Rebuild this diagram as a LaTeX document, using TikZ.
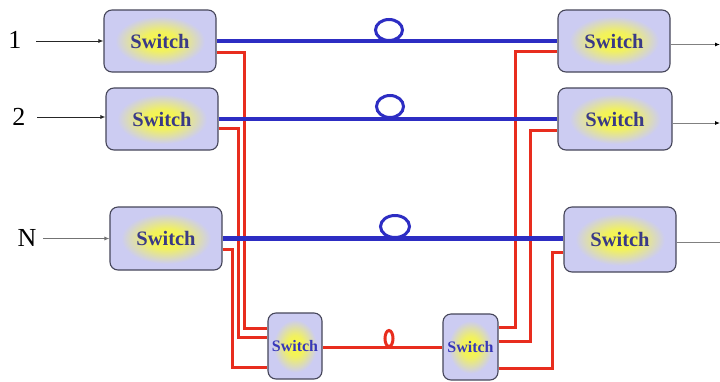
\documentclass[tikz,border=0pt]{standalone}
\usepackage{fontspec}
\setmainfont{Liberation Serif}
\usetikzlibrary{calc,arrows.meta}
\definecolor{lav}{RGB}{204,204,242}
\definecolor{yel}{RGB}{250,250,60}
\definecolor{edgec}{RGB}{70,70,90}
\definecolor{txtc}{RGB}{58,58,135}
\definecolor{txtb}{RGB}{55,55,185}
\definecolor{bl}{RGB}{45,45,195}
\definecolor{rd}{RGB}{232,45,30}
\pgfdeclareradialshading{glow}{\pgfpoint{0bp}{0bp}}{color(0bp)=(yel); color(8bp)=(yel!80!lav); color(20bp)=(lav); color(50bp)=(lav)}
\tikzset{
  swbox/.style={draw=edgec, line width=1.1pt, rounded corners=8pt, shading=glow,
    minimum width=112pt, minimum height=62pt,
    inner sep=0pt, text=txtc, font=\fontsize{20.5}{24}\selectfont\bfseries},
  smallbox/.style={swbox, minimum width=54pt, minimum height=66pt, text=txtb,
    font=\fontsize{16}{19}\selectfont\bfseries},
  bluel/.style={draw=bl, line width=4.2pt},
  bloop/.style={draw=bl, line width=3pt},
  redl/.style={draw=rd, line width=3pt},
  inarrow/.style={draw=black!85, line width=0.8pt, -{Latex[length=5pt,width=4pt]}},
  outarrow/.style={draw=black!50, line width=0.9pt, -{Latex[length=5pt,width=4pt,color=black]}},
  lbl/.style={font=\fontsize{26}{30}\selectfont, inner sep=0pt}
}
\begin{document}
\begin{tikzpicture}[x=1pt,y=-1pt]
\useasboundingbox[fill=white] (0,0) rectangle (720,381);
% switches
\node[swbox] (S1) at (160,41) {Switch};
\node[swbox] (S2) at (162,119) {Switch};
\node[swbox, minimum height=63pt] (SN) at (166,238.5) {Switch};
\node[swbox] (R1) at (614,41) {Switch};
\node[swbox, minimum width=114pt] (R2) at (615,119) {Switch};
\node[swbox, minimum height=65pt] (RN) at (620,239.5) {Switch};
\node[smallbox] (B1) at (295,346) {Switch};
\node[smallbox, minimum width=55pt] (B2) at (470.5,347) {Switch};
% labels
\node[lbl] (L1) at (15,40) {1};
\node[lbl] (L2) at (19,117) {2};
\node[lbl] (LN) at (27,238) {N};
\coordinate (I1) at (36,41);
\coordinate (I2) at (37,117);
\coordinate (IN) at (43,238.5);
\draw[inarrow] (I1) -- (S1.west);
\draw[inarrow] (I2) -- (S2.west |- I2);
\draw[inarrow, draw=black!55] (IN) -- (SN.west);
% outputs
\coordinate (O1) at (720,44.5);
\coordinate (O2) at (720,123);
\coordinate (ON) at (722,242);
\draw[outarrow] (R1.east |- O1) -- (O1);
\draw[outarrow] (R2.east |- O2) -- (O2);
\draw[draw=black!50, line width=0.9pt] (RN.east |- ON) -- (ON);
% red routes
\draw[redl] ($(S1.east)+(0,11)$) -| ($(B1.west)+(-23,-18)$) -- ($(B1.west)+(0,-18)$);
\draw[redl] ($(S2.east)+(0,9)$) -| ($(B1.west)+(-29,-9)$) -- ($(B1.west)+(0,-9)$);
\draw[redl] ($(SN.east)+(0,10.5)$) -| ($(B1.west)+(-35,21)$) -- ($(B1.west)+(0,21)$);
\draw[redl] ($(B2.east)+(0,-20)$) -| ($(R1.west)+(-42,10)$) -- ($(R1.west)+(0,10)$);
\draw[redl] ($(B2.east)+(0,-6)$) -| ($(R2.west)+(-27,11)$) -- ($(R2.west)+(0,11)$);
\draw[redl] ($(B2.east)+(0,21)$) -| ($(RN.west)+(-11,12.5)$) -- ($(RN.west)+(0,12.5)$);
\draw[redl] (B1.east |- 0,347.5) -- (B2.west |- 0,347.5);
\draw[redl] (389,338.5) ellipse [x radius=4pt, y radius=8pt];
% blue routes
\draw[bluel] (S1.east) -- (R1.west);
\draw[bluel] (S2.east) -- (R2.west);
\draw[bluel] (SN.east) -- (RN.west |- SN.east);
\draw[bloop] (389,30) ellipse [x radius=13.5pt, y radius=10.5pt];
\draw[bloop] (390,106.5) ellipse [x radius=13.5pt, y radius=11pt];
\draw[bloop] (395,226.5) ellipse [x radius=14.5pt, y radius=11pt];
\end{tikzpicture}
\end{document}
